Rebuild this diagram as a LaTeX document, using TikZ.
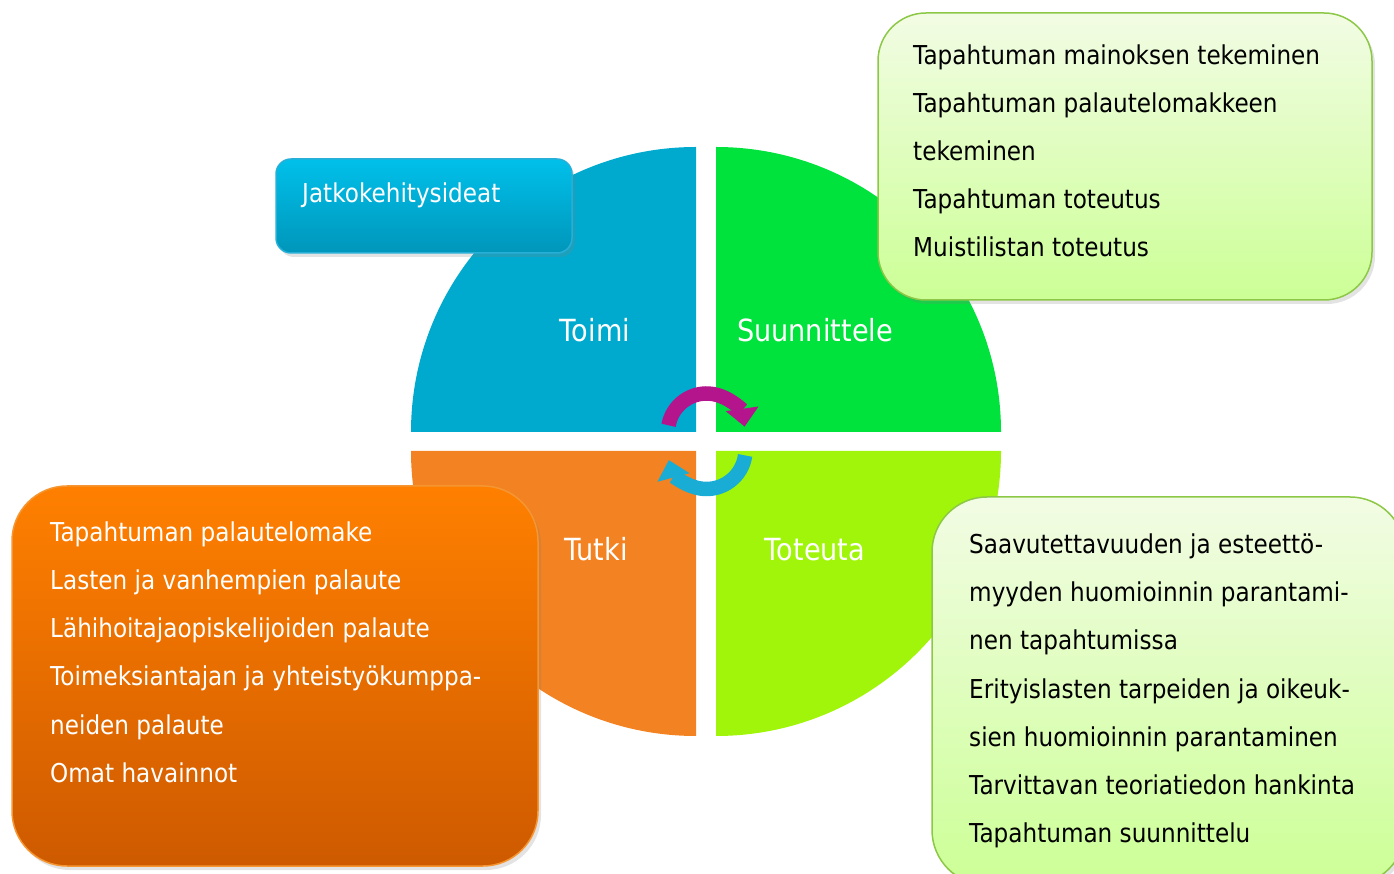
\documentclass[tikz,border=0pt]{standalone}
\usepackage{fontspec}
\setmainfont{DejaVu Sans}[FakeStretch=0.89]
\usepackage{xcolor}
\usetikzlibrary{arrows.meta, shadows}

\definecolor{toimiblue}{RGB}{0,170,206}
\definecolor{suungreen}{RGB}{0,226,60}
\definecolor{tutkiorange}{RGB}{242,130,34}
\definecolor{toteutalime}{RGB}{160,245,10}
\definecolor{notetop}{RGB}{242,252,228}
\definecolor{notebottom}{RGB}{204,255,150}
\definecolor{noteedge}{RGB}{140,200,70}
\definecolor{orangetop}{RGB}{255,128,0}
\definecolor{orangebottom}{RGB}{206,90,0}
\definecolor{orangeedge}{RGB}{245,150,50}
\definecolor{ideatop}{RGB}{0,192,234}
\definecolor{ideabottom}{RGB}{0,150,186}
\definecolor{ideaedge}{RGB}{40,175,215}
\definecolor{cyclemagenta}{RGB}{180,20,140}
\definecolor{cycleblue}{RGB}{25,172,212}

\begin{document}
\begin{tikzpicture}[
        x=1pt, y=1pt,
        phase/.style={anchor=base, inner sep=0pt, text=white, font=\fontsize{30.5}{36}\selectfont},
        item/.style={anchor=base west, inner sep=0pt, font=\fontsize{26}{30}\selectfont},
        callout/.style={draw, line width=1.5pt, rounded corners=48pt,
            drop shadow={shadow xshift=3pt, shadow yshift=-4pt, opacity=0.22}},
        cycle arrow/.style={line width=14.5pt, -{Triangle[length=18pt, width=32pt]}}
    ]
        \useasboundingbox (0,0) rectangle (1394,873);
        \clip (0,0) rectangle (1394,873);
        \def\rad{285}
        \def\linesep{48}

        % the four quarters of the cycle
        \fill[toimiblue]   (696,441) -- ++(-\rad,0) arc[start angle=180, end angle=90,  radius=\rad] -- cycle;
        \fill[suungreen]   (716,441) -- ++(0,\rad)  arc[start angle=90,  end angle=0,   radius=\rad] -- cycle;
        \fill[tutkiorange] (696,422) -- ++(-\rad,0) arc[start angle=180, end angle=270, radius=\rad] -- cycle;
        \fill[toteutalime] (716,422) -- ++(\rad,0)  arc[start angle=0,   end angle=-90, radius=\rad] -- cycle;

        \node[phase] (toimi)   at (595,531) {Toimi};
        \node[phase] (suunn)   at (815,531) {Suunnittele};
        \node[phase] (tutki)   at (596,312) {Tutki};
        \node[phase] (toteuta) at (815,312) {Toteuta};

        % turning arrows in the middle
        \draw[cycle arrow, cyclemagenta] (706.5,441) ++(170:38.5) arc[start angle=170, end angle=8, radius=38.5];
        \draw[cycle arrow, cycleblue]    (706.5,423) ++(-8:39)    arc[start angle=-8, end angle=-165, radius=39];

        % notes
        \node[callout, draw=noteedge, top color=notetop, bottom color=notebottom,
            minimum width=494pt, minimum height=287pt] (plannote) at (1125,716.5) {};
        \node[callout, draw=orangeedge, top color=orangetop, bottom color=orangebottom,
            rounded corners=55pt, minimum width=526pt, minimum height=380pt] (tutkinote) at (275,197) {};
        \node[callout, draw=noteedge, top color=notetop, bottom color=notebottom,
            rounded corners=55pt, minimum width=473pt, minimum height=388pt] (toteutanote) at (1168.5,182) {};
        \node[callout, draw=ideaedge, top color=ideatop, bottom color=ideabottom,
            rounded corners=15pt, minimum width=296pt, minimum height=94pt] (ideabox) at (424,667) {};

        \node[item, text=white] (idea) at (302,670) {Jatkokehitysideat};

        \foreach \txt [count=\i] in {Tapahtuman mainoksen tekeminen, Tapahtuman palautelomakkeen,
                tekeminen, Tapahtuman toteutus, Muistilistan toteutus}
            \node[item] (plan\i) at (913, {808-(\i-1)*\linesep}) {\txt};

        \foreach \txt [count=\i] in {Tapahtuman palautelomake, Lasten ja vanhempien palaute,
                Lähihoitajaopiskelijoiden palaute, Toimeksiantajan ja yhteistyökumppa-,
                neiden palaute, Omat havainnot}
            \node[item, text=white] (tutki\i) at (50, {331-(\i-1)*\linesep}) {\txt};

        \foreach \txt [count=\i] in {Saavutettavuuden ja esteettö-, myyden huomioinnin parantami-,
                nen tapahtumissa, Erityislasten tarpeiden ja oikeuk-,
                sien huomioinnin parantaminen, Tarvittavan teoriatiedon hankinta,
                Tapahtuman suunnittelu}
            \node[item] (tot\i) at (969, {319-(\i-1)*\linesep}) {\txt};
    \end{tikzpicture}
\end{document}
